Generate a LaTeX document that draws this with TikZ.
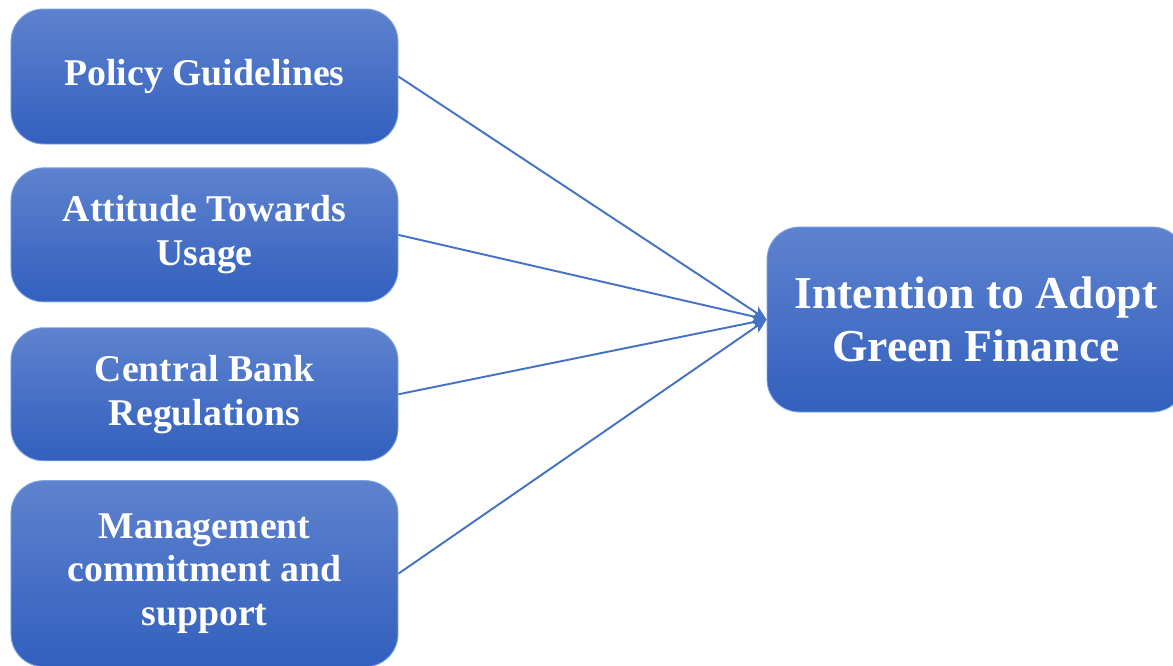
\documentclass[tikz,border=0pt]{standalone}
\usepackage{fontspec}
\setmainfont{Liberation Serif}
\usetikzlibrary{arrows.meta, positioning}

\definecolor{boxtop}{RGB}{94,130,206}
\definecolor{boxbottom}{RGB}{50,96,190}
\definecolor{boxedge}{RGB}{125,165,228}
\definecolor{linkblue}{RGB}{68,114,196}

\begin{document}
\begin{tikzpicture}[
    % Define styles
    factor/.style={rectangle, draw=boxedge, line width=0.5pt, rounded corners=0.65cm, top color=boxtop, bottom color=boxbottom, text=white, minimum width=7.74cm, align=center, font=\fontsize{21.5}{25}\selectfont\bfseries},
    outcome/.style={factor, minimum width=8.36cm, minimum height=3.7cm, font=\fontsize{26}{30}\selectfont\bfseries},
    arrow/.style={->, >={Stealth[length=8pt, width=7pt, inset=2pt]}, draw=linkblue, fill=linkblue, line width=1.1pt}
  ]

  \useasboundingbox (0,0) rectangle (23.46,-13.3);

  % Predictors
  \node[factor, minimum height=2.7cm] (policy) at (4.09,-1.53) {Policy Guidelines};
  \node[factor, minimum height=2.68cm, below=0.46cm of policy] (attitude) {Attitude Towards\\Usage};
  \node[factor, minimum height=2.66cm, below=0.5cm of attitude] (central) {Central Bank\\Regulations};
  \node[factor, minimum height=3.72cm, below=0.38cm of central] (mgmt) {Management\\commitment and\\support};

  % Outcome
  \node[outcome] (intention) at (19.52,-6.39) {Intention to Adopt\\Green Finance};

  % Links
  \draw[arrow] (policy.east) -- (intention.west);
  \draw[arrow] (attitude.east) -- (intention.west);
  \draw[arrow] (central.east) -- (intention.west);
  \draw[arrow] (mgmt.east) -- (intention.west);

\end{tikzpicture}
\end{document}
